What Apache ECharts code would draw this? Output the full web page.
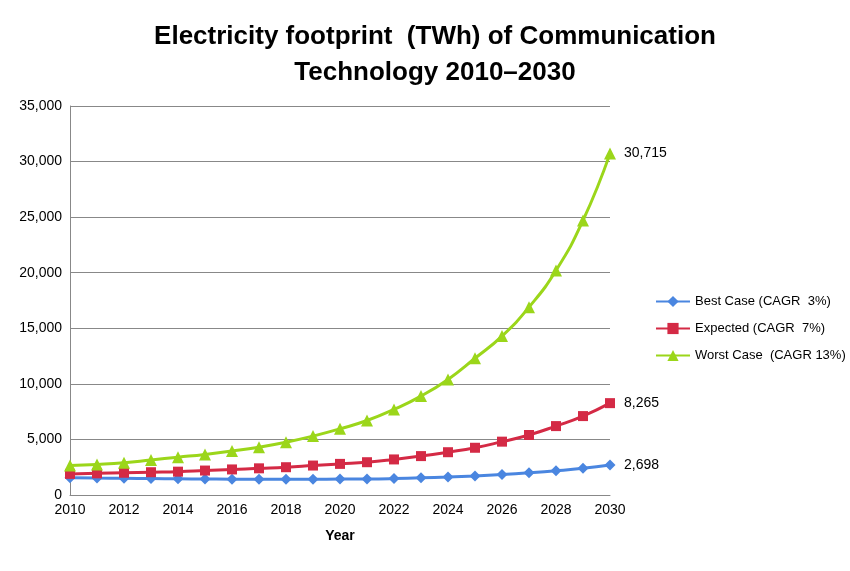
<!DOCTYPE html><html><head><meta charset="utf-8"><script src="https://cdn.jsdelivr.net/npm/echarts@6/dist/echarts.min.js"></script></head><body style="margin:0"><div id="c" style="width:850px;height:571px"></div><script>
const years=['2010','2011','2012','2013','2014','2015','2016','2017','2018','2019','2020','2021','2022','2023','2024','2025','2026','2027','2028','2029','2030'];
const best=[1550,1520,1500,1480,1460,1440,1420,1420,1420,1420,1430,1440,1480,1550,1620,1720,1850,2000,2180,2400,2698];
const expected=[1900,1950,2000,2050,2100,2200,2300,2400,2500,2650,2800,2950,3200,3500,3850,4250,4800,5400,6200,7100,8265];
const worst=[2650,2750,2900,3150,3400,3650,3950,4300,4750,5300,5950,6700,7700,8900,10400,12300,14300,16900,20200,24700,30715];
const F='Liberation Sans';
function s(name,data,color,sym,size){return {name,type:'line',data,smooth:true,color,symbol:sym,symbolSize:size,lineStyle:{width:3,color},itemStyle:{color},
 endLabel:{show:true,formatter:p=>p.value.toLocaleString('en-US'),color:'#000',fontSize:14,fontFamily:F,distance:14}};}
const ch=echarts.init(document.getElementById('c'));
ch.setOption({animation:false,
title:{text:'Electricity footprint  (TWh) of Communication\nTechnology 2010–2030',left:430,top:14,textAlign:'center',textStyle:{fontSize:26,fontWeight:'bold',fontFamily:F,lineHeight:36,color:'#000'}},
grid:{left:70,right:240,top:106,bottom:76},
legend:{orient:'vertical',left:650,top:290,itemGap:14,itemWidth:34,textStyle:{fontSize:13,fontFamily:F,color:'#000'}},
xAxis:{type:'category',data:years,boundaryGap:false,name:'Year',nameLocation:'middle',nameGap:34,nameTextStyle:{fontWeight:'bold',fontSize:14,fontFamily:F,color:'#000'},
 axisLabel:{interval:1,fontSize:14,fontFamily:F,color:'#000'},axisTick:{show:false},axisLine:{lineStyle:{color:'#888'}}},
yAxis:{type:'value',min:0,max:35000,interval:5000,axisLabel:{formatter:v=>v.toLocaleString('en-US'),fontSize:14,fontFamily:F,color:'#000'},
 splitLine:{lineStyle:{color:'#888'}},axisLine:{show:true,lineStyle:{color:'#888'}}},
series:[s('Best Case (CAGR  3%)',best,'#4a86e0','diamond',11),s('Expected (CAGR  7%)',expected,'#d42a45','rect',10),s('Worst Case  (CAGR 13%)',worst,'#9bd61a','triangle',12)]});
</script></body></html>
